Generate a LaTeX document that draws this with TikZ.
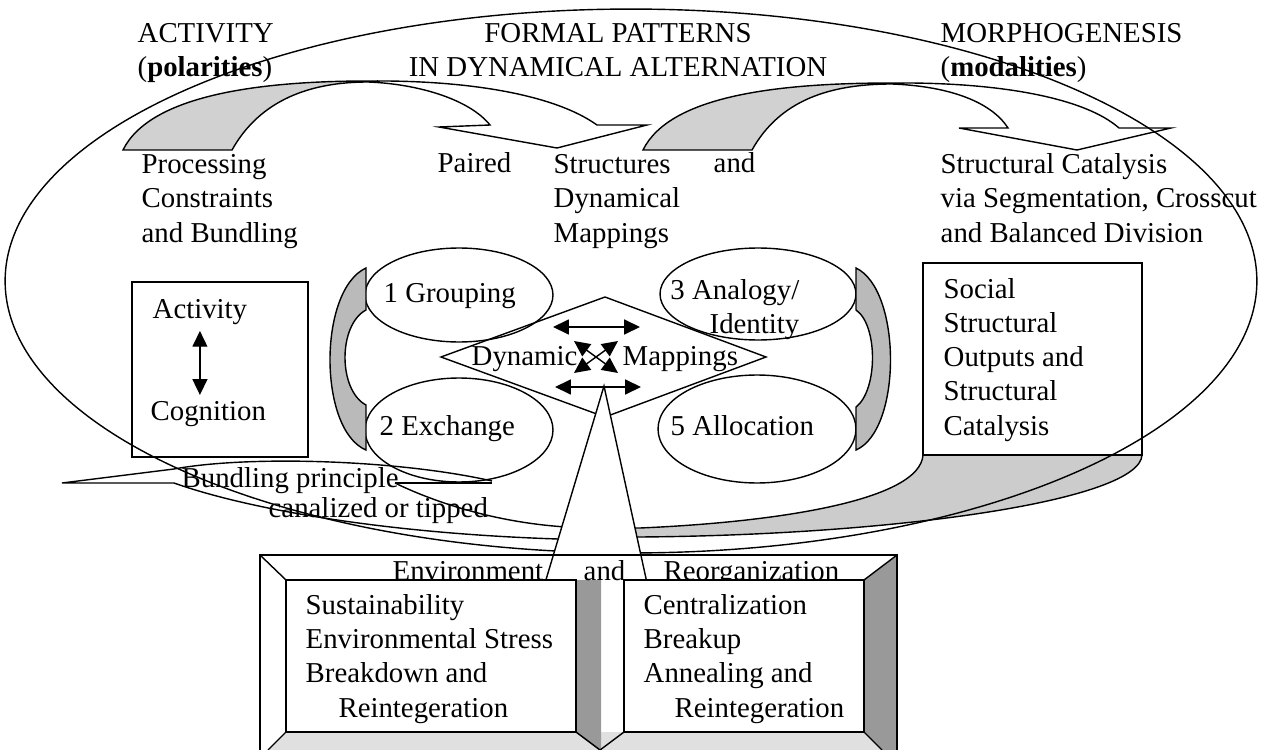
\documentclass[tikz,border=0pt]{standalone}
\usepackage{fontspec}
\setmainfont{Liberation Serif}
\usepackage{tikz}
\usetikzlibrary{arrows.meta}

\tikzset{
  txt/.style={font=\fontsize{16.4}{19.4}\selectfont, inner sep=0pt, anchor=base west, align=left},
  band/.style={fill=black!18},
  twohead/.style={{Triangle[length=9pt,width=8.5pt]}-{Triangle[length=9pt,width=8.5pt]}},
}

\begin{document}
\begin{tikzpicture}[x=0.02cm, y=-0.02cm, line width=0.8pt]
\useasboundingbox (0,0) rectangle (1269,750);

% Gray parts of the top arrows
\fill[band] (123,150) .. controls (150,95) and (260,81) .. (368,81) .. controls (310,82) and (260,100) .. (232,150) -- cycle;
\fill[band] (643,150) .. controls (670,95) and (780,83) .. (892,83) .. controls (830,84) and (780,100) .. (752,150) -- cycle;

% Top arrows
\draw (123,150) .. controls (150,95) and (260,81) .. (368,81) .. controls (470,80) and (555,95) .. (597,125) -- (647,125) -- (557,148) -- (439,127) -- (490,125) .. controls (470,100) and (420,84) .. (368,82) .. controls (310,82) and (260,100) .. (232,150) -- cycle;
\draw (643,150) .. controls (670,95) and (780,83) .. (892,83) .. controls (1000,82) and (1085,98) .. (1119,128) -- (1171,128) -- (1077,150) -- (959,128) -- (1008,128) .. controls (990,100) and (945,86) .. (892,84) .. controls (830,84) and (780,100) .. (752,150) -- cycle;

% Swoosh under the right box
\fill[black!20] (923,455) .. controls (920,500) and (780,522) .. (640,528) -- (600,528) -- (600,537) -- (640,537) .. controls (900,535) and (1140,500) .. (1142,455) -- cycle;
\draw (923,455) .. controls (920,500) and (780,522) .. (640,528) -- (600,528);
\draw (600,537) -- (640,537) .. controls (900,535) and (1140,500) .. (1142,455);

% Bundling arrow
\draw (395,483) .. controls (430,500) and (490,522) .. (566,527) -- (600,527);
\draw (174,483) .. controls (250,510) and (400,537) .. (600,540);
\draw (492,481) .. controls (400,460) and (250,455) .. (174,469) -- (62,483) -- (174,483);
\draw[line width=1.3pt] (395,483) -- (492,483);

% Big ellipse
\draw (631,281) ellipse [x radius=12.52cm, y radius=5.44cm];

% Four ellipses and diamond
\draw (459,295) ellipse [x radius=1.88cm, y radius=0.94cm];
\draw (758,294) ellipse [x radius=1.96cm, y radius=0.92cm];
\draw (459,430) ellipse [x radius=1.88cm, y radius=1.04cm];
\draw (757,429) ellipse [x radius=1.98cm, y radius=1.08cm];
\draw (441,357) -- (605,297) -- (766,357) -- (605,417) -- cycle;

% Side crescents
\draw[fill=black!27] (366,268) .. controls (318,290) and (318,430) .. (366,450) -- (366,405) .. controls (338,390) and (338,325) .. (366,310) -- cycle;
\draw[fill=black!27] (856,268) .. controls (902,290) and (902,430) .. (856,450) -- (856,407) .. controls (878,390) and (878,325) .. (856,310) -- cycle;

% Texts at the top
\node[txt] (activity) at (137,77) {ACTIVITY\\(\textbf{polarities})};
\node[txt, anchor=base, align=center] (formal) at (618,77) {FORMAL PATTERNS\\IN DYNAMICAL ALTERNATION};
\node[txt] (morpho) at (940,77) {MORPHOGENESIS\\(\textbf{modalities})};
\node[txt] (processing) at (141,242) {Processing\\Constraints\\and Bundling};
\node[txt] (paired) at (437,173) {Paired};
\node[txt] (structures) at (553,242) {Structures\\Dynamical\\Mappings};
\node[txt] (pairedand) at (713,173) {and};
\node[txt] (catalysis) at (940,242) {Structural Catalysis\\via Segmentation, Crosscut\\and Balanced Division};

% Left box
\draw (132,282) rectangle (308,457);
\node[txt] (act) at (152,318) {Activity};
\node[txt] (cog) at (150,420) {Cognition};

% Right box
\draw (923,263) rectangle (1142,455);
\node[txt] (outputs) at (943,435) {Social\\Structural\\Outputs and\\Structural\\Catalysis};

% Ellipse labels
\node[txt] (grouping) at (383,302) {1 Grouping};
\node[txt, anchor=base east, align=right] (analogy) at (800,334) {3 Analogy/\\Identity};
\node[txt] (exchange) at (379,435) {2 Exchange};
\node[txt] (allocation) at (670,435) {5 Allocation};
\node[txt] (dynamic) at (471,365) {Dynamic};
\node[txt] (mappings) at (622,365) {Mappings};
\node[txt] (bundling) at (181,487) {Bundling principle};
\node[txt] (canalized) at (268,517) {canalized or tipped};

% Triangle down to the frame
\draw[fill=white] (545,583) -- (604,386) -- (647,583);

% Bottom frame
\fill[black!12] (286,732) -- (864,732) -- (882,750) -- (268,750) -- cycle;
\fill[black!40] (897,555) -- (864,580) -- (864,732) -- (882,750) -- (897,750) -- cycle;
\fill[black!40] (576,580) -- (601,580) -- (601,750) -- (576,732) -- cycle;
\draw (260,555) rectangle (897,770);
\draw (260,555) -- (286,580);
\draw (897,555) -- (864,580);
\draw (286,732) -- (268,750);
\draw (864,732) -- (882,750);
\draw (576,732) -- (600,750) -- (624,732);
\node[txt] (environment) at (392,580) {Environment};
\node[txt] (envand) at (583,580) {and};
\node[txt] (reorg) at (663,580) {Reorganization};
\draw[fill=white] (286,580) rectangle (576,732);
\draw[fill=white] (624,580) rectangle (864,732);
\node[txt] (sustain) at (305,717) {Sustainability\\Environmental Stress\\Breakdown and\\\hspace*{18.7pt}Reintegeration};
\node[txt] (central) at (643,717) {Centralization\\Breakup\\Annealing and\\\hspace*{17.6pt}Reintegeration};

% Arrows in the diamond
\coordinate (tl) at (553,327);
\coordinate (tr) at (640,327);
\coordinate (bl) at (555,387);
\coordinate (br) at (641,387);
\coordinate (xtl) at (574,341);
\coordinate (xtr) at (618,341);
\coordinate (xbl) at (574,373);
\coordinate (xbr) at (618,373);
\draw[twohead] (tl) -- (tr);
\draw[twohead] (bl) -- (br);
\draw[twohead] (xtl) -- (xbr);
\draw[twohead] (xtr) -- (xbl);

% Activity and cognition
\draw[twohead, shorten >=3pt] (act.south) ++(0,6) -- (act.south |- cog.north);

\end{tikzpicture}
\end{document}
